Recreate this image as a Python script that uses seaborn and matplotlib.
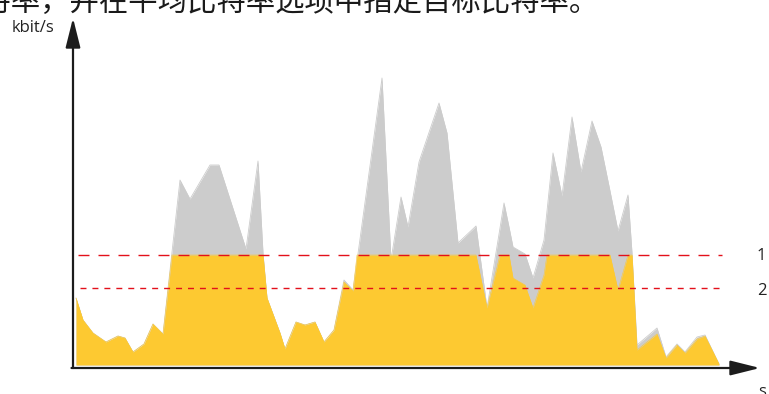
import numpy as np
import pandas as pd
import matplotlib
matplotlib.use("Agg")
import matplotlib.pyplot as plt
from matplotlib.patches import ArrowStyle
import seaborn as sns

# Time axis (s) and bitrate series (kbit/s)
time_s = [0.0, 1.4, 3.4, 6.0, 8.4, 9.8, 11.4, 13.6, 15.4, 17.4,
          19.2, 20.8, 22.8, 26.8, 28.6, 34.0, 36.4, 37.4, 38.2, 40.8,
          41.8, 44.0, 45.8, 47.8, 49.6, 51.6, 53.6, 55.4, 56.2, 61.2,
          63.0, 65.0, 66.4, 68.6, 72.6, 74.2, 76.4, 80.0, 82.2, 84.8,
          85.6, 86.6, 87.4, 89.8, 91.4, 93.6, 94.2, 95.4, 97.2, 99.2,
          101.0, 103.2, 105.0, 106.8, 108.4, 110.4, 111.2, 112.2, 116.2, 118.0,
          120.2, 121.8, 124.2, 125.8, 128.6]

# Bitrate the scene would need without a limit
original_kbps = [670, 450, 320, 230, 290, 270, 130, 210, 410, 310,
                 1130, 1850, 1660, 2000, 2000, 1160, 2040, 1120, 670, 320,
                 160, 430, 400, 430, 230, 350, 850, 750, 1040, 2870,
                 1050, 1680, 1380, 2030, 2620, 2320, 1220, 1390, 570, 1370,
                 1620, 1380, 1180, 1110, 870, 1250, 1540, 2120, 1690, 2480,
                 1930, 2440, 2180, 1740, 1340, 1700, 1120, 200, 370, 80,
                 210, 130, 280, 300, 10]

# Bitrate actually sent
limited_kbps = [670, 450, 320, 230, 290, 270, 130, 210, 410, 310,
                1100, 1100, 1100, 1100, 1100, 1100, 1100, 1100, 670, 320,
                160, 430, 400, 430, 230, 350, 830, 740, 1100, 1100,
                1100, 1100, 1100, 1100, 1100, 1100, 1100, 1100, 570, 1100,
                1100, 1100, 870, 800, 570, 900, 1100, 1100, 1100, 1100,
                1100, 1100, 1100, 1100, 750, 1100, 1100, 150, 310, 70,
                200, 120, 260, 290, 10]

# Reference levels
level_labels = ["1", "2"]
level_kbps = [1100, 770]

GRAY = "#cccccc"
YELLOW = "#fdc931"
RED = "#e3101b"
AXIS = "#1c1c1c"

sns.set_theme(style="white")
plt.rcParams["font.family"] = ["Open Sans", "DejaVu Sans"]

df = pd.DataFrame({"t": time_s, "orig": original_kbps, "lim": limited_kbps})

fig = plt.figure(figsize=(7.69, 3.94), dpi=100)
ax = fig.add_axes([0, 0, 1, 1])
ax.set_xlim(-15.2, 138.6)
ax.set_ylim(-290, 3650)
ax.set_axis_off()

# Areas
ax.fill_between(df["t"], 0, df["orig"], color=GRAY, lw=0, zorder=1)
sns.lineplot(data=df, x="t", y="orig", ax=ax, color=GRAY, lw=0.6, zorder=1.5)
ax.fill_between(df["t"], 0, df["lim"], color=YELLOW, lw=0, zorder=2)
sns.lineplot(data=df, x="t", y="lim", ax=ax, color=YELLOW, lw=0.4, zorder=2.5)

# Dashed reference levels
ax.hlines(level_kbps[0], 0.4, 129.2, colors=RED, lw=1.0,
          linestyles=(0, (7.9, 6.5)), zorder=3)
ax.hlines(level_kbps[1], 0.8, 129.6, colors=RED, lw=1.0,
          linestyles=(0, (4.3, 4.3)), zorder=3)
ax.text(137.0, level_kbps[0] - 50, level_labels[0], ha="center", va="baseline",
        fontsize=12, color="#222222")
ax.text(137.2, level_kbps[1] - 70, level_labels[1], ha="center", va="baseline",
        fontsize=12, color="#222222")

# Axes with arrowheads
head = ArrowStyle("-|>", head_length=1.8, head_width=0.45)
ax.annotate("", xy=(-0.6, 3470), xytext=(-0.6, -30),
            arrowprops=dict(arrowstyle=head, mutation_scale=10, color=AXIS,
                            lw=1.6, shrinkA=0, shrinkB=0), zorder=4)
ax.annotate("", xy=(136.8, -30), xytext=(-0.9, -30),
            arrowprops=dict(arrowstyle=head, mutation_scale=10, color=AXIS,
                            lw=1.6, shrinkA=0, shrinkB=0), zorder=4)

ax.text(-12.8, 3330, "kbit/s", ha="left", va="baseline", fontsize=12,
        color="#222222")
ax.text(137.2, -310, "s", ha="center", va="baseline", fontsize=12,
        color="#222222", clip_on=False)

# Caption line running across the top
ax.text(-24.8, 3540, "比特率，并在平均比特率选项中指定目标比特率。",
        ha="left", va="baseline", fontsize=21.2, color="#1a1a1a",
        family=["Noto Sans CJK SC", "DejaVu Sans"], clip_on=False)

fig.savefig("out.png", dpi=100)
